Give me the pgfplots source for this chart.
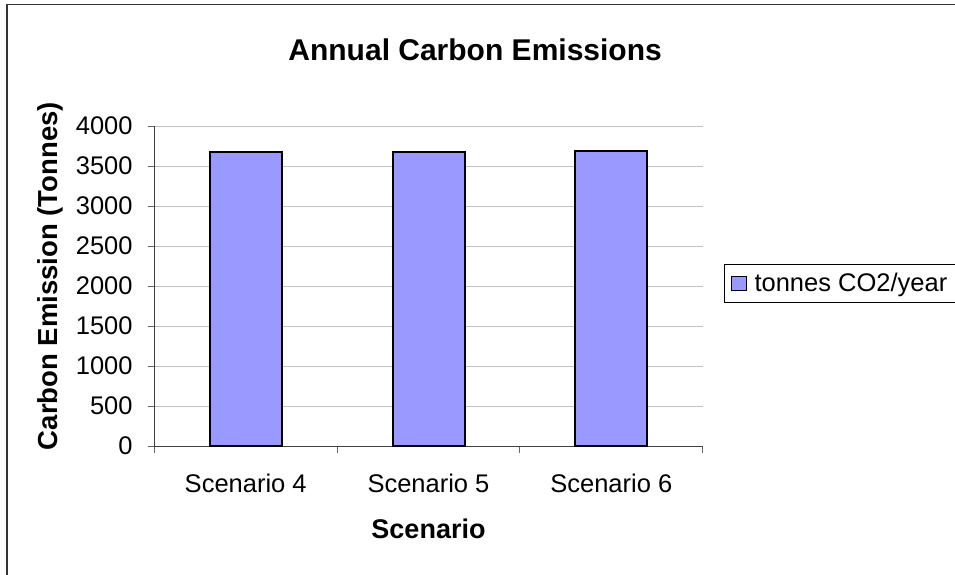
\documentclass[border=0pt]{standalone}
\usepackage{pgfplots}
\pgfplotsset{compat=1.18}
\usepackage{fontspec}
\setmainfont{Liberation Sans}
\definecolor{barblue}{HTML}{9999FF}
\definecolor{gridgray}{HTML}{C0C0C0}
\begin{document}
\begin{tikzpicture}[x=1pt,y=1pt]
\path[use as bounding box] (0,0) rectangle (955,574);
\clip (0,0) rectangle (955,574);
\draw[line width=1.6pt, black!80] (6.8,-20) -- (6.8,569.5) -- (1000,569.5);
\begin{axis}[
  ybar, bar width=72pt,
  at={(154.3pt,128pt)}, anchor=south west, scale only axis,
  width=548.4pt, height=320pt,
  xmin=0.5, xmax=3.5, ymin=0, ymax=4000,
  axis x line*=bottom, axis y line*=left,
  axis line style={black!75, line width=1pt, -},
  tick align=outside,
  major tick length=6.5pt,
  tick style={black!60, line width=1pt},
  ytick={0,500,...,4000},
  xtick={0.5,1.5,2.5,3.5},
  xticklabels={},
  extra x ticks={1,2,3},
  extra x tick labels={Scenario 4, Scenario 5, Scenario 6},
  extra x tick style={major tick length=0pt, grid=none},
  ymajorgrids, grid style={gridgray, line width=0.8pt},
  /pgf/number format/assume math mode=true,
  /pgf/number format/1000 sep={},
  ticklabel style={font=\fontsize{25.5}{30}\selectfont},
  yticklabel style={anchor=east, inner sep=0pt, xshift=-15pt},
  xticklabel style={anchor=base, inner sep=0pt, yshift=-46pt},
  every axis title shift=0pt,
  title={Annual Carbon Emissions},
  title style={font=\fontsize{30}{36}\selectfont\bfseries, at={(rel axis cs:0.585,1.205)}, anchor=base, inner sep=0pt},
  xlabel={Scenario},
  xlabel style={font=\fontsize{27}{32}\selectfont\bfseries, at={(rel axis cs:0.5,-0.2875)}, anchor=base, inner sep=0pt},
  ylabel={Carbon Emission (Tonnes)},
  ylabel style={font=\fontsize{27.5}{32}\selectfont\bfseries, at={(rel axis cs:-0.190,0.531)}, anchor=center, rotate=0, inner sep=0pt},
  legend style={at={(rel axis cs:1.0389,0.56875)}, anchor=north west, draw=black, line width=1pt,
    font=\fontsize{25.5}{30}\selectfont, inner xsep=2pt, inner ysep=7pt,
    cells={anchor=west}, legend cell align=left},
  legend image code/.code={\draw[fill=barblue, draw=black, line width=0.9pt] (4pt,-7.2pt) rectangle (18.5pt,7.2pt); \path (0pt,0pt) (24pt,0pt);},
]
\addplot[ybar, fill=barblue, draw=black, line width=2pt, bar shift=0pt] coordinates {(1,3671) (2,3672) (3,3691)};
\addlegendentry{tonnes CO2/year\kern45pt}
\end{axis}
\end{tikzpicture}
\end{document}
